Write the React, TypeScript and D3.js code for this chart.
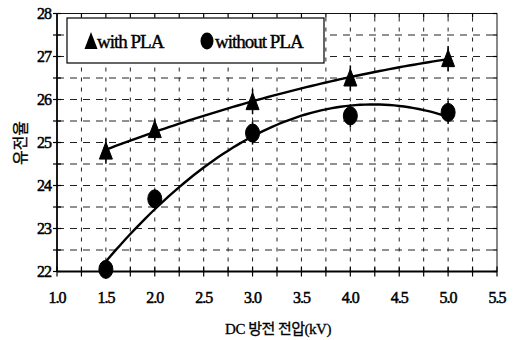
import React from "react";
import * as d3 from "d3";

// DC discharge voltage (kV)
const voltages = [1.5, 2.0, 3.0, 4.0, 5.0];
// permittivity, with PLA / without PLA
const withPLA = [24.8, 25.3, 25.95, 26.5, 26.95];
const withoutPLA = [22.05, 23.69, 25.22, 25.62, 25.7];
// small error bars (half length)
const withErr = [0.2, 0.15, 0.2, 0.2, 0.2];
const withoutErr = [0.15, 0.15, 0.2, 0.2, 0.2];

const xTickLabels = ["1.0", "1.5", "2.0", "2.5", "3.0", "3.5", "4.0", "4.5", "5.0", "5.5"];
const yTickLabels = ["22", "23", "24", "25", "26", "27", "28"];

const W = 514;
const H = 340;
const margin = { left: 57, right: 17, top: 13.5, bottom: 68.5 };

// least squares quadratic fit, like a spreadsheet trendline
function polyfit2(xs: number[], ys: number[]) {
  const s = (f: (x: number, y: number) => number) =>
    xs.reduce((acc, x, i) => acc + f(x, ys[i]), 0);
  const n = xs.length;
  const sx = s((x) => x), sx2 = s((x) => x * x), sx3 = s((x) => x ** 3), sx4 = s((x) => x ** 4);
  const sy = s((_, y) => y), sxy = s((x, y) => x * y), sx2y = s((x, y) => x * x * y);
  const A = [
    [n, sx, sx2, sy],
    [sx, sx2, sx3, sxy],
    [sx2, sx3, sx4, sx2y],
  ];
  for (let i = 0; i < 3; i++) {
    for (let k = i + 1; k < 3; k++) {
      const f = A[k][i] / A[i][i];
      for (let j = i; j < 4; j++) A[k][j] -= f * A[i][j];
    }
  }
  const c = [0, 0, 0];
  for (let i = 2; i >= 0; i--) {
    let v = A[i][3];
    for (let j = i + 1; j < 3; j++) v -= A[i][j] * c[j];
    c[i] = v / A[i][i];
  }
  return (x: number) => c[0] + c[1] * x + c[2] * x * x;
}

export default function App() {
  const x = d3.scaleLinear().domain([1.0, 5.5]).range([margin.left, W - margin.right]);
  const y = d3.scaleLinear().domain([22, 28]).range([H - margin.bottom, margin.top]);

  const xGrid = d3.range(1.25, 5.5, 0.25);
  const yGrid = d3.range(22.5, 28, 0.5);
  const yTicks = d3.range(22, 28.01, 0.5);

  const fitWith = polyfit2(voltages, withPLA);
  const fitWithout = polyfit2(voltages, withoutPLA);
  const xs = d3.range(1.5, 5.0001, 0.05);
  const line = d3.line<number>().x((d) => x(d));
  const pathWith = line.y((d) => y(fitWith(d)))(xs);
  const pathWithout = line.y((d) => y(fitWithout(d)))(xs);

  const x0 = x(1.0), x1 = x(5.5), y0 = y(22), y1 = y(28);
  const serif = "Liberation Serif";
  const kfont = "Liberation Serif, Noto Sans CJK KR";

  const tri = (cx: number, cy: number) =>
    `M${cx},${cy - 9} L${cx + 6.5},${cy + 8} L${cx - 6.5},${cy + 8} Z`;

  return (
    <svg width={W} height={H} style={{ position: "absolute", left: 0, top: 0, background: "#fff" }}>
      {/* grid */}
      <g stroke="#222" strokeWidth={1}>
        {xGrid.map((v) => (
          <line key={"gx" + v} x1={x(v)} x2={x(v)} y1={y0} y2={y1} strokeDasharray="4,6" />
        ))}
        {yGrid.map((v) => (
          <line key={"gy" + v} x1={x0} x2={x1} y1={y(v)} y2={y(v)} strokeDasharray="7,6" />
        ))}
      </g>

      {/* frame */}
      <rect x={x0} y={y1} width={x1 - x0} height={y0 - y1} fill="none" stroke="#111" strokeWidth={1} />
      <line x1={x0} x2={x0} y1={y0} y2={y1} stroke="#000" strokeWidth={1.6} />
      <line x1={x0} x2={x1} y1={y0} y2={y0} stroke="#000" strokeWidth={2} />

      {/* ticks */}
      <g stroke="#000" strokeWidth={1.2}>
        {yTicks.map((v) => (
          <line key={"yt" + v} x1={x0 - 4} x2={x0 + 4} y1={y(v)} y2={y(v)} />
        ))}
        {yTicks.map((v) => (
          <line key={"yr" + v} x1={x1 - 4} x2={x1} y1={y(v)} y2={y(v)} />
        ))}
        {d3.range(1.0, 5.51, 0.25).map((v) => (
          <line key={"xt" + v} x1={x(v)} x2={x(v)} y1={y0 - 5} y2={y0 + 5} />
        ))}
        {d3.range(1.25, 5.5, 0.25).map((v) => (
          <line key={"xtop" + v} x1={x(v)} x2={x(v)} y1={y1} y2={y1 + 4} />
        ))}
      </g>

      {/* tick labels */}
      <g fontFamily={serif} fontSize={16} fill="#000" stroke="#000" strokeWidth={0.5} letterSpacing={-1}>
        {yTickLabels.map((t) => (
          <text key={"yl" + t} x={x0 - 6} y={y(+t)} dy="0.35em" textAnchor="end">
            {t}
          </text>
        ))}
        {xTickLabels.map((t) => (
          <text key={"xl" + t} x={x(+t)} y={y0 + 31} textAnchor="middle">
            {t}
          </text>
        ))}
      </g>

      {/* fitted curves */}
      <path d={pathWith ?? ""} fill="none" stroke="#000" strokeWidth={2.4} />
      <path d={pathWithout ?? ""} fill="none" stroke="#000" strokeWidth={2.4} />

      {/* markers */}
      <g fill="#000" stroke="#000">
        {voltages.map((v, i) => (
          <g key={"w" + v}>
            <line x1={x(v)} x2={x(v)} y1={y(withPLA[i] + withErr[i]) - 4} y2={y(withPLA[i] - withErr[i]) + 4} strokeWidth={1.5} />
            <path d={tri(x(v), y(withPLA[i]))} />
          </g>
        ))}
        {voltages.map((v, i) => (
          <g key={"wo" + v}>
            <line x1={x(v)} x2={x(v)} y1={y(withoutPLA[i] + withoutErr[i]) - 3} y2={y(withoutPLA[i] - withoutErr[i]) + 3} strokeWidth={1.5} />
            <ellipse cx={x(v)} cy={y(withoutPLA[i])} rx={7} ry={9} />
          </g>
        ))}
      </g>

      {/* legend */}
      <rect x={67} y={18} width={257} height={45} fill="#fff" stroke="#000" strokeWidth={1.2} />
      <path d={tri(91, 41)} fill="#000" />
      <g fontFamily={serif} fontSize={19} letterSpacing={-1} stroke="#000" strokeWidth={0.4}>
        <text x={97} y={48}>with PLA</text>
        <text x={215} y={48}>without PLA</text>
      </g>
      <ellipse cx={207} cy={41} rx={6.5} ry={8.5} fill="#000" />

      {/* axis titles */}
      <text x={278} y={334} textAnchor="middle" fontFamily={kfont} fontSize={15} letterSpacing={-0.5} stroke="#000" strokeWidth={0.3}>
        DC 방전 전압(kV)
      </text>
      <text
        transform={`translate(26,143) rotate(-90)`}
        textAnchor="middle"
        fontFamily={kfont}
        fontSize={16}
        stroke="#000"
        strokeWidth={0.3}
      >
        유전율
      </text>
    </svg>
  );
}
